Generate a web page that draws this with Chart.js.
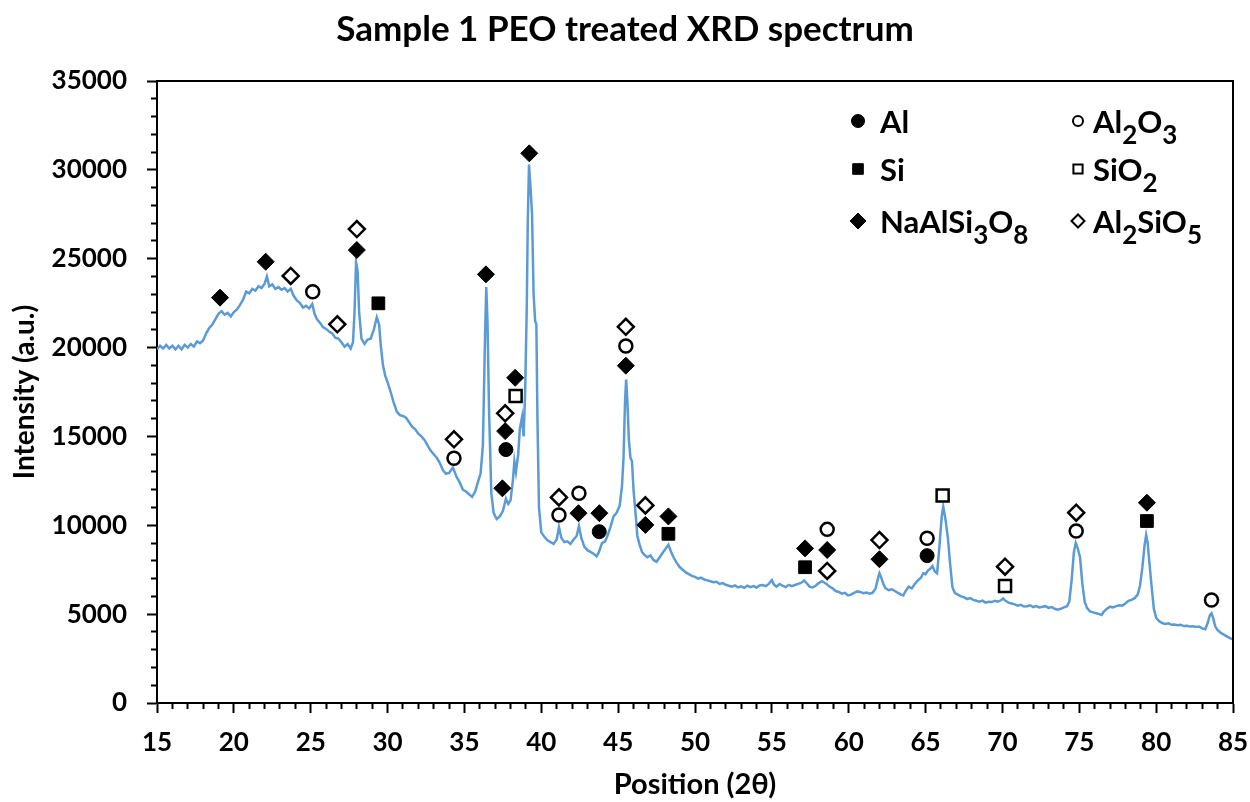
<!DOCTYPE html>
<html>
<head>
<meta charset="utf-8">
<title>Sample 1 PEO treated XRD spectrum</title>
<script src="https://cdn.jsdelivr.net/npm/chart.js@4.4.1/dist/chart.umd.min.js"></script>
<style>
  html, body { margin: 0; padding: 0; background: #fff; }
  #xrd { display: block; }
</style>
</head>
<body>
<canvas id="xrd" width="1250" height="802"></canvas>
<script>
// measured pattern (2theta, counts)
const twoTheta = [
  15.0, 15.2, 15.4, 15.6, 15.8, 16.0, 16.2, 16.4, 16.6, 16.8,
  17.0, 17.2, 17.4, 17.6, 17.8, 18.0, 18.2, 18.4, 18.6, 18.8,
  19.0, 19.2, 19.4, 19.6, 19.8, 20.0, 20.2, 20.4, 20.6, 20.8,
  21.0, 21.2, 21.4, 21.6, 21.8, 22.0, 22.15, 22.3, 22.5, 22.7,
  22.9, 23.1, 23.3, 23.5, 23.7, 23.9, 24.1, 24.3, 24.5, 24.7,
  24.9, 25.1, 25.25, 25.4, 25.6, 25.8, 26.0, 26.2, 26.4, 26.6,
  26.8, 27.0, 27.2, 27.4, 27.6, 27.75, 27.85, 27.95, 28.05, 28.15,
  28.3, 28.5, 28.7, 28.9, 29.1, 29.3, 29.45, 29.55, 29.7, 29.85,
  30.0, 30.2, 30.4, 30.6, 30.8, 31.0, 31.2, 31.4, 31.6, 31.8,
  32.0, 32.2, 32.4, 32.6, 32.8, 33.0, 33.2, 33.4, 33.6, 33.8,
  34.0, 34.25, 34.5, 34.7, 34.9, 35.1, 35.3, 35.5, 35.7, 35.9,
  36.05, 36.2, 36.35, 36.42, 36.5, 36.6, 36.75, 36.9, 37.1, 37.3,
  37.5, 37.7, 37.85, 38.0, 38.15, 38.25, 38.35, 38.5, 38.6, 38.75,
  38.85, 38.95, 39.05, 39.12, 39.2, 39.3, 39.4, 39.5, 39.6, 39.68,
  39.75, 39.85, 40.0, 40.2, 40.4, 40.6, 40.8, 41.0, 41.15, 41.3,
  41.5, 41.7, 41.9, 42.1, 42.3, 42.45, 42.6, 42.8, 43.0, 43.2,
  43.4, 43.6, 43.75, 43.95, 44.15, 44.3, 44.5, 44.7, 44.9, 45.1,
  45.25, 45.35, 45.45, 45.52, 45.6, 45.7, 45.8, 45.9, 46.0, 46.15,
  46.25, 46.4, 46.55, 46.7, 46.9, 47.1, 47.3, 47.5, 47.7, 47.9,
  48.1, 48.27, 48.45, 48.6, 48.8, 49.0, 49.2, 49.4, 49.6, 49.8,
  50.0, 50.2, 50.4, 50.6, 50.8, 51.0, 51.2, 51.4, 51.6, 51.8,
  52.0, 52.2, 52.4, 52.6, 52.8, 53.0, 53.2, 53.4, 53.6, 53.8,
  54.0, 54.2, 54.4, 54.6, 54.8, 55.0, 55.15, 55.3, 55.5, 55.7,
  55.9, 56.1, 56.3, 56.5, 56.7, 56.9, 57.1, 57.25, 57.45, 57.65,
  57.85, 58.05, 58.25, 58.4, 58.55, 58.75, 58.95, 59.15, 59.35, 59.55,
  59.75, 59.95, 60.15, 60.35, 60.55, 60.75, 60.95, 61.15, 61.35, 61.55,
  61.75, 61.9, 62.0, 62.1, 62.25, 62.4, 62.6, 62.8, 63.0, 63.2,
  63.4, 63.55, 63.7, 63.9, 64.1, 64.3, 64.5, 64.7, 64.85, 65.0,
  65.15, 65.3, 65.45, 65.6, 65.75, 65.9, 66.05, 66.15, 66.3, 66.45,
  66.6, 66.75, 66.9, 67.1, 67.3, 67.5, 67.7, 67.9, 68.1, 68.3,
  68.5, 68.7, 68.9, 69.1, 69.3, 69.5, 69.7, 69.9, 70.05, 70.2,
  70.4, 70.6, 70.8, 71.0, 71.2, 71.4, 71.6, 71.8, 72.0, 72.2,
  72.4, 72.6, 72.8, 73.0, 73.2, 73.4, 73.6, 73.8, 74.0, 74.2,
  74.35, 74.5, 74.65, 74.77, 74.9, 75.05, 75.2, 75.35, 75.5, 75.7,
  75.9, 76.1, 76.3, 76.45, 76.6, 76.8, 77.0, 77.2, 77.4, 77.6,
  77.8, 78.0, 78.2, 78.4, 78.6, 78.8, 78.95, 79.1, 79.25, 79.35,
  79.45, 79.55, 79.7, 79.85, 80.0, 80.2, 80.4, 80.6, 80.8, 81.0,
  81.2, 81.4, 81.6, 81.8, 82.0, 82.2, 82.4, 82.6, 82.8, 83.0,
  83.2, 83.35, 83.5, 83.6, 83.7, 83.85, 84.0, 84.2, 84.4, 84.6,
  84.8, 85.0
];
const intensity = [
  19900, 20100, 19950, 20150, 19950, 20100, 19900, 20100, 19900, 20150,
  20000, 20200, 20050, 20350, 20250, 20400, 20800, 21100, 21300, 21600,
  21900, 22050, 21850, 21950, 21750, 22000, 22150, 22400, 22700, 23150,
  23050, 23300, 23200, 23450, 23350, 23600, 24000, 23450, 23550, 23300,
  23400, 23250, 23350, 23150, 23300, 22900, 22650, 22500, 22250, 22350,
  22200, 22450, 21900, 21600, 21400, 21150, 21050, 20900, 20800, 20550,
  20500, 20300, 20050, 20200, 19950, 20300, 22000, 24800, 24300, 22000,
  20500, 20200, 20450, 20500, 21000, 21700, 21300, 20200, 19000, 18400,
  18050, 17500, 16900, 16400, 16200, 16150, 16050, 15800, 15550, 15400,
  15150, 15000, 14800, 14500, 14200, 14000, 13800, 13500, 13100, 12900,
  12950, 13250, 12700, 12400, 12000, 11900, 11750, 11600, 11900, 12500,
  12900, 14500, 21000, 23400, 21500, 16500, 11800, 10700, 10350, 10500,
  10800, 11500, 11200, 11400, 12500, 13600, 13000, 14000, 15400, 16100,
  15000, 17500, 22000, 27000, 30300, 29000, 27500, 23000, 21500, 21300,
  16000, 11000, 9600, 9350, 9150, 9050, 8950, 9200, 9900, 9300,
  9050, 9100, 8950, 9200, 9400, 9950, 9300, 8800, 8600, 8500,
  8400, 8250, 8500, 9000, 9100, 9400, 9900, 10500, 10700, 11100,
  12200, 13800, 17000, 18200, 17000, 14800, 13800, 13600, 12000, 10500,
  9400, 8900, 8500, 8350, 8200, 8300, 8050, 7950, 8200, 8450,
  8700, 8900, 8500, 8200, 7900, 7650, 7500, 7350, 7250, 7150,
  7100, 7000, 7050, 6950, 6900, 6850, 6800, 6820, 6700, 6750,
  6650, 6600, 6550, 6620, 6500, 6560, 6480, 6600, 6520, 6580,
  6500, 6620, 6640, 6580, 6700, 6920, 6650, 6550, 6700, 6600,
  6520, 6650, 6580, 6640, 6700, 6760, 6900, 6750, 6550, 6500,
  6600, 6750, 6850, 6780, 6700, 6550, 6450, 6300, 6250, 6150,
  6200, 6050, 6100, 6200, 6280, 6250, 6180, 6220, 6150, 6200,
  6450, 7000, 7300, 7100, 6700, 6450, 6350, 6400, 6300, 6200,
  6100, 6050, 6300, 6550, 6450, 6700, 6900, 7050, 7300, 7250,
  7450, 7550, 7700, 7400, 7300, 8800, 10500, 11050, 10300, 9300,
  7800, 6500, 6200, 6100, 6000, 5950, 5850, 5900, 5800, 5750,
  5700, 5760, 5650, 5700, 5680, 5750, 5700, 5780, 5880, 5750,
  5650, 5600, 5550, 5480, 5520, 5430, 5450, 5500, 5400, 5450,
  5380, 5420, 5450, 5350, 5400, 5300, 5250, 5300, 5380, 5450,
  5700, 6900, 8500, 9000, 8700, 8200, 6700, 5700, 5350, 5150,
  5100, 5050, 5000, 4950, 5150, 5300, 5420, 5380, 5450, 5500,
  5480, 5600, 5750, 5800, 5900, 6100, 6600, 7600, 8900, 9450,
  9000, 8000, 6600, 5300, 4800, 4600, 4500, 4450, 4480, 4400,
  4420, 4380, 4400, 4330, 4350, 4300, 4320, 4280, 4300, 4200,
  4150, 4500, 4950, 5050, 4800, 4300, 4100, 3950, 3850, 3750,
  3650, 3580
];

// phase markers (position, height of symbol)
const phaseNames = ['Al', 'Si', 'NaAlSi3O8', 'Al2O3', 'SiO2', 'Al2SiO5'];
const alPos = [37.7, 43.77, 65.1];
const alInt = [14260, 9640, 8290];
const siPos = [29.4, 48.27, 57.16, 79.4];
const siInt = [22490, 9520, 7640, 10240];
const albitePos = [19.1, 22.07, 28.0, 36.4, 37.47, 37.65, 38.3, 39.22, 42.42, 43.78, 45.5, 46.77, 48.27, 57.16, 58.6, 62.0, 79.4];
const albiteInt = [22810, 24830, 25490, 24120, 12080, 15300, 18300, 30930, 10680, 10680, 18980, 10020, 10500, 8700, 8610, 8090, 11270];
const aluminaPos = [25.13, 34.32, 41.15, 42.45, 45.5, 58.6, 65.1, 74.8, 83.6];
const aluminaInt = [23140, 13770, 10580, 11800, 20090, 9770, 9270, 9680, 5800];
const silicaPos = [38.33, 66.11, 70.17];
const silicaInt = [17270, 11670, 6580];
const sillimanitePos = [23.7, 26.73, 28.0, 34.32, 37.65, 41.15, 45.5, 46.77, 58.6, 62.0, 70.17, 74.8];
const sillimaniteInt = [24030, 21310, 26670, 14840, 16300, 11570, 21170, 11120, 7430, 9170, 7670, 10710];

const xTicks = [15, 20, 25, 30, 35, 40, 45, 50, 55, 60, 65, 70, 75, 80, 85];
const yTicks = [0, 5000, 10000, 15000, 20000, 25000, 30000, 35000];

const FONT = 'Lato, "Open Sans", sans-serif';

// symbol for each phase: [pointStyle, radius, filled, legend radius]
const symbols = {
  'Al':        ['circle', 7, true, 6.5],
  'Si':        ['rect', 9, true, 7.5],
  'NaAlSi3O8': ['rectRot', 8.5, true, 8],
  'Al2O3':     ['circle', 6.5, false, 5],
  'SiO2':      ['rect', 8.5, false, 6.5],
  'Al2SiO5':   ['rectRot', 8, false, 6.5]
};

const markerData = {
  'Al': [alPos, alInt],
  'Si': [siPos, siInt],
  'NaAlSi3O8': [albitePos, albiteInt],
  'Al2O3': [aluminaPos, aluminaInt],
  'SiO2': [silicaPos, silicaInt],
  'Al2SiO5': [sillimanitePos, sillimaniteInt]
};

const toPoints = (xs, ys) => xs.map((x, i) => ({x: x, y: ys[i]}));

const markerSets = phaseNames.map(name => {
  const [style, r, filled] = symbols[name];
  return {
    label: name,
    data: toPoints(markerData[name][0], markerData[name][1]),
    showLine: false,
    pointStyle: style,
    pointRadius: r,
    pointBackgroundColor: filled ? '#000' : '#fff',
    pointBorderColor: '#000',
    pointBorderWidth: filled ? 1 : 2.5,
    order: 0
  };
});

// text with digits as subscripts
function drawFormula(ctx, text, x, baseline) {
  (text.match(/[A-Za-z]+|\d+/g) || []).forEach(part => {
    const sub = /^\d/.test(part);
    ctx.font = 'bold ' + (sub ? 26 : 31) + 'px ' + FONT;
    ctx.fillText(part, x, sub ? baseline + 11 : baseline);
    x += ctx.measureText(part).width;
  });
}

const phaseLegend = {
  id: 'phaseLegend',
  afterDraw(chart) {
    const {ctx, chartArea} = chart;
    const colX = [701, 921];
    const rowY = [40, 88, 140];
    ctx.save();
    phaseNames.forEach((name, i) => {
      const col = i < 3 ? 0 : 1;
      const mx = chartArea.left + colX[col];
      const my = chartArea.top + rowY[i % 3];
      const [style, , filled, lr] = symbols[name];
      ctx.fillStyle = filled ? '#000' : '#fff';
      ctx.strokeStyle = '#000';
      ctx.lineWidth = filled ? 1 : 2;
      Chart.helpers.drawPoint(ctx, {pointStyle: style, radius: lr, rotation: 0, borderWidth: ctx.lineWidth}, mx, my);
      ctx.fillStyle = '#000';
      ctx.textAlign = 'left';
      ctx.textBaseline = 'alphabetic';
      drawFormula(ctx, name, mx + (col ? 15 : 22), my + 12);
    });
    ctx.restore();
  }
};

const plotFrame = {
  id: 'plotFrame',
  afterDatasetsDraw(chart) {
    const {ctx, chartArea: a} = chart;
    ctx.save();
    ctx.strokeStyle = '#000';
    ctx.lineWidth = 2;
    ctx.beginPath();
    ctx.moveTo(a.left, a.top);
    ctx.lineTo(a.right, a.top);
    ctx.lineTo(a.right, a.bottom);
    ctx.stroke();
    ctx.restore();
  }
};

Chart.defaults.font.family = FONT;
Chart.defaults.font.weight = 'bold';
Chart.defaults.color = '#000';

function draw() {
  new Chart(document.getElementById('xrd'), {
    type: 'scatter',
    data: {
      datasets: [
        ...markerSets,
        {
          label: 'XRD',
          data: toPoints(twoTheta, intensity),
          showLine: true,
          borderColor: '#5B9BD5',
          borderWidth: 2.5,
          pointRadius: 0,
          tension: 0,
          fill: false,
          order: 1
        }
      ]
    },
    options: {
      responsive: false,
      animation: false,
      events: [],
      devicePixelRatio: 1,
      layout: { padding: 0 },
      plugins: {
        legend: { display: false },
        tooltip: { enabled: false },
        title: {
          display: true,
          text: 'Sample 1 PEO treated XRD spectrum',
          color: '#000',
          font: { size: 35, weight: 'bold' },
          padding: { top: 9, bottom: 30 }
        }
      },
      scales: {
        x: {
          type: 'linear',
          min: 15, max: 85,
          // fixed band below the plot, 17px kept free on the right
          afterFit: s => { s.height = 99; s.paddingLeft = 0; s.paddingRight = 17; },
          ticks: {
            stepSize: 1, autoSkip: false, maxRotation: 0, maxTicksLimit: 100,
            padding: 14, font: { size: 26 }, color: '#000',
            callback: v => xTicks.includes(v) ? String(v) : ''
          },
          grid: {
            drawOnChartArea: false, tickLength: 10, tickWidth: 2, tickColor: '#000',
            tickBorderDash: c => (c.tick && xTicks.includes(c.tick.value)) ? [] : [5, 20]
          },
          border: { color: '#000', width: 2 },
          title: { display: true, text: 'Position (2θ)', color: '#000', font: { size: 29 }, padding: { top: 0, bottom: 0 } }
        },
        y: {
          type: 'linear',
          min: 0, max: 35000,
          afterFit: s => { s.width = 157; },
          ticks: {
            stepSize: 1000, autoSkip: false, maxTicksLimit: 100,
            padding: 20, font: { size: 26 }, color: '#000',
            callback: v => yTicks.includes(v) ? String(v) : ''
          },
          grid: {
            drawOnChartArea: false, tickLength: 10, tickWidth: 2, tickColor: '#000',
            tickBorderDash: c => (c.tick && yTicks.includes(c.tick.value)) ? [] : [0, 4, 20]
          },
          border: { color: '#000', width: 2 },
          title: { display: true, text: 'Intensity (a.u.)', color: '#000', font: { size: 28 }, padding: { top: 8, bottom: 0 } }
        }
      }
    },
    plugins: [plotFrame, phaseLegend]
  });
}

if (document.fonts && document.fonts.load) {
  document.fonts.load('bold 27px Lato').then(draw, draw);
} else {
  draw();
}
</script>
</body>
</html>
